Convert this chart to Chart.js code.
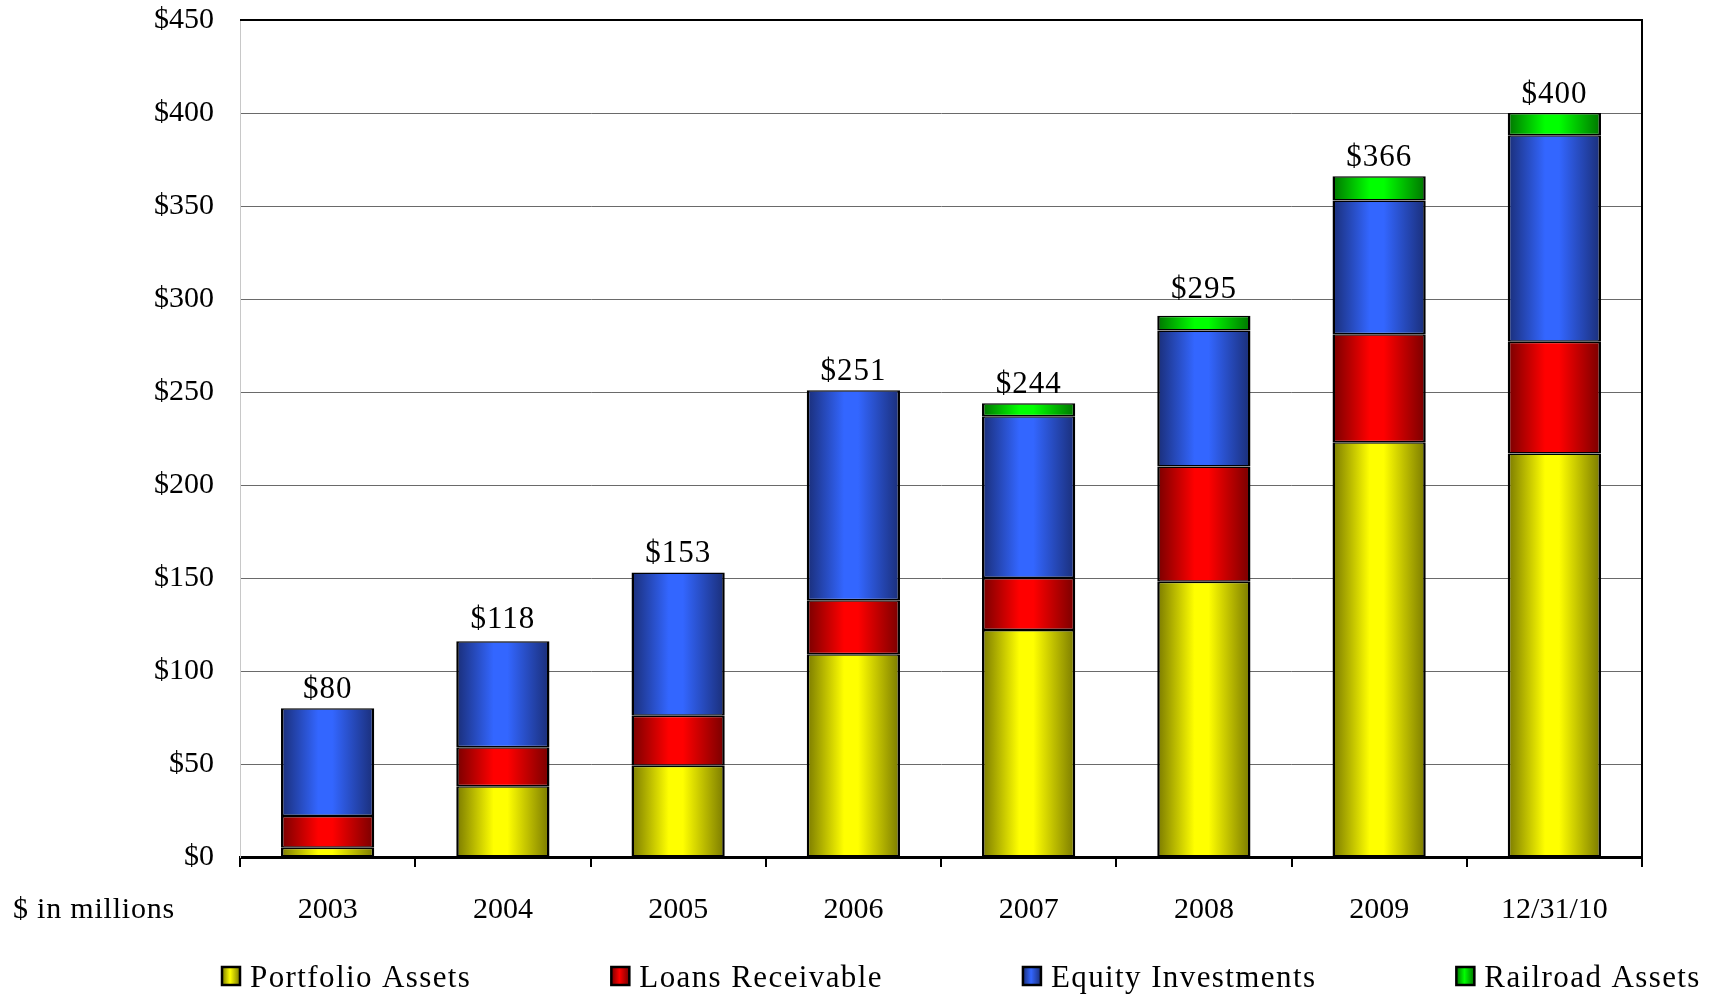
<!DOCTYPE html>
<html>
<head>
<meta charset="utf-8">
<script src="https://cdn.jsdelivr.net/npm/chart.js@4.4.1/dist/chart.umd.min.js"></script>
<style>
  html, body { margin: 0; padding: 0; background: #fff; }
  #wrap { width: 1713px; height: 997px; }
</style>
</head>
<body>
<div id="wrap"><canvas id="assets"></canvas></div>
<script>
const years = ['2003', '2004', '2005', '2006', '2007', '2008', '2009', '12/31/10'];
const portfolio = [5, 38, 49, 109, 122, 148, 223, 217];
const loans = [17, 21, 27, 29, 28, 62, 58, 60];
const equity = [58, 57, 77, 113, 87, 73, 72, 111];
const railroad = [0, 0, 0, 0, 7, 8, 13, 12];
const totals = [80, 118, 153, 251, 244, 295, 366, 400];
const yTicks = [0, 50, 100, 150, 200, 250, 300, 350, 400, 450];

const FONT = "'Liberation Serif', 'Times New Roman', serif";
const BAR_PCT = 0.532;

// dark edge -> bright middle -> dark edge, like the old office cylinders
const shade = (dark, bright) => ctx => {
  const { chart, dataIndex } = ctx;
  const xs = chart.scales.x;
  if (ctx.type !== 'data' || !xs || !chart.chartArea) return bright;
  const cx = xs.getPixelForValue(dataIndex);
  const half = (xs.width / years.length) * BAR_PCT / 2;
  const g = chart.ctx.createLinearGradient(cx - half, 0, cx + half, 0);
  g.addColorStop(0, dark);
  g.addColorStop(0.4, bright);
  g.addColorStop(0.55, bright);
  g.addColorStop(1, dark);
  return g;
};

const series = [
  { label: 'Portfolio Assets', data: portfolio, dark: '#7a7a00', bright: '#ffff00' },
  { label: 'Loans Receivable', data: loans, dark: '#780000', bright: '#ff0000' },
  { label: 'Equity Investments', data: equity, dark: '#1a2e78', bright: '#3366ff' },
  { label: 'Railroad Assets', data: railroad, dark: '#007400', bright: '#00ff00' }
];

const frameAndText = {
  id: 'frameAndText',
  afterDatasetsDraw(chart) {
    const { ctx, chartArea: { left, top, right, bottom }, scales: { x, y } } = chart;
    ctx.save();
    // top and right frame
    ctx.strokeStyle = '#000';
    ctx.lineWidth = 2;
    ctx.beginPath();
    ctx.moveTo(left, top);
    ctx.lineTo(right, top);
    ctx.lineTo(right, bottom);
    ctx.stroke();

    // totals above the stacks
    ctx.fillStyle = '#000';
    ctx.font = `31px ${FONT}`;
    ctx.letterSpacing = '1px';
    ctx.textAlign = 'center';
    ctx.textBaseline = 'alphabetic';
    totals.forEach((t, i) => {
      ctx.fillText('$' + t, x.getPixelForValue(i), y.getPixelForValue(t) - 10);
    });

    // unit note
    ctx.font = `30px ${FONT}`;
    ctx.letterSpacing = '0.8px';
    ctx.textAlign = 'left';
    ctx.fillText('$ in millions', 13, 918);

    // legend
    ctx.font = `31px ${FONT}`;
    ctx.letterSpacing = '1.4px';
    let lx = 222;
    const ly = 976;
    series.forEach(s => {
      const g = ctx.createLinearGradient(lx, 0, lx + 18, 0);
      g.addColorStop(0, s.dark);
      g.addColorStop(0.45, s.bright);
      g.addColorStop(1, s.dark);
      ctx.fillStyle = g;
      ctx.fillRect(lx, ly - 9, 18, 18);
      ctx.strokeStyle = '#000';
      ctx.lineWidth = 2.5;
      ctx.strokeRect(lx, ly - 9, 18, 18);
      ctx.fillStyle = '#000';
      ctx.fillText(s.label, lx + 28, 986.5);
      lx += 28 + ctx.measureText(s.label).width + 140;
    });
    ctx.restore();
  }
};

new Chart(document.getElementById('assets'), {
  type: 'bar',
  plugins: [frameAndText],
  data: {
    labels: years,
    datasets: series.map(s => ({
      label: s.label,
      data: s.data,
      backgroundColor: shade(s.dark, s.bright),
      borderColor: '#000',
      borderWidth: { top: 1.5, bottom: 1.5, left: 2.5, right: 2.5 },
      borderSkipped: false,
      categoryPercentage: 1,
      barPercentage: BAR_PCT
    }))
  },
  options: {
    responsive: true,
    maintainAspectRatio: false,
    animation: false,
    layout: { padding: { top: 20, right: 71, bottom: 60, left: 0 } },
    plugins: {
      legend: { display: false },
      tooltip: { enabled: false }
    },
    scales: {
      x: {
        stacked: true,
        afterFit: scale => { scale.height = 80; },
        grid: {
          display: true,
          drawOnChartArea: false,
          drawTicks: true,
          tickLength: 10,
          color: '#000',
          lineWidth: 2
        },
        border: { display: true, color: '#000', width: 3 },
        ticks: {
          color: '#000',
          font: { family: FONT, size: 30 },
          padding: 25,
          maxRotation: 0
        }
      },
      y: {
        stacked: true,
        min: 0,
        max: 450,
        afterFit: scale => {
          scale.width = 240;
          scale.paddingTop = 0;
          scale.paddingBottom = 0;
        },
        afterBuildTicks: scale => { scale.ticks = yTicks.map(v => ({ value: v })); },
        grid: {
          color: '#6a6a6a',
          lineWidth: 1,
          drawTicks: false
        },
        border: { display: true, color: '#c8c8c8', width: 1 },
        ticks: {
          color: '#000',
          font: { family: FONT, size: 30 },
          padding: 26,
          callback: v => '$' + v
        }
      }
    }
  }
});
</script>
</body>
</html>
